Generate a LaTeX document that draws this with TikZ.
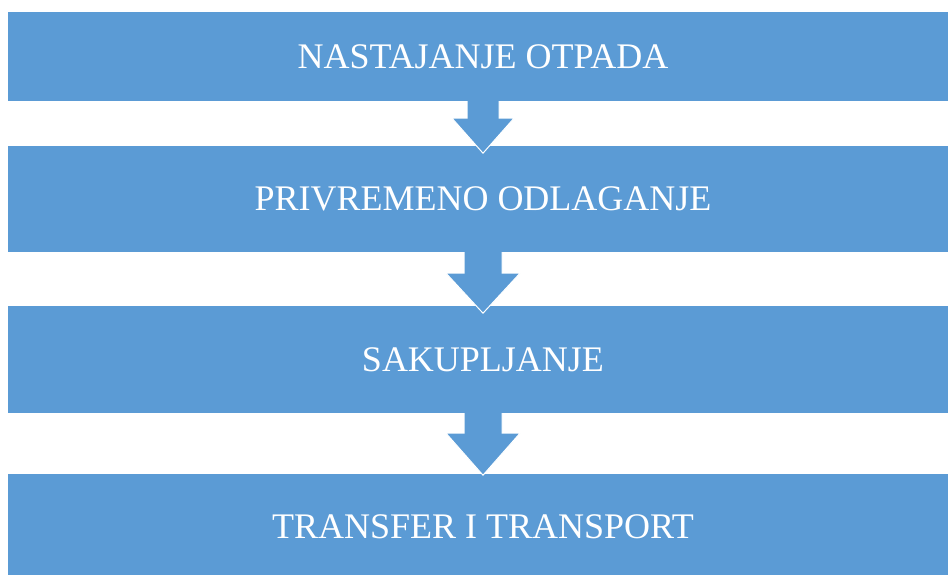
\documentclass[tikz,border=0pt]{standalone}
\usepackage{fontspec}
\setmainfont{Liberation Serif}
\usepackage{tikz}
\definecolor{blok}{HTML}{5B9BD5}
\tikzset{
  faza/.style={fill=blok, text=white, inner sep=0pt, minimum width=950pt,
    font=\fontsize{36}{40}\selectfont},
  pijl/.style={fill=blok, draw=white, line width=1pt, line join=miter}
}

\begin{document}
\begin{tikzpicture}[x=1pt,y=1pt]
    \useasboundingbox (0,0) rectangle (948,574);
    \clip (0,0) rectangle (948,574);
    \node[faza, minimum height=89pt] (nastaj) at (483,517.5) {NASTAJANJE OTPADA};
    \node[faza, minimum height=106pt] (odlag) at (483,375) {PRIVREMENO ODLAGANJE};
    \node[faza, minimum height=107pt] (sakup) at (483,214.5) {SAKUPLJANJE};
    \node[faza, minimum height=106pt] (transp) at (483,47) {TRANSFER I TRANSPORT};
    % strelice
    \filldraw[pijl] ([xshift=-16pt]nastaj.south) -- ++(0,-17) -- ++(-15,0) -- ++(31,-35) -- ++(31,35) -- ++(-15,0) -- ++(0,17);
    \filldraw[pijl] ([xshift=-19pt]odlag.south) -- ++(0,-21) -- ++(-18,0) -- ++(37,-40) -- ++(37,40) -- ++(-18,0) -- ++(0,21);
    \filldraw[pijl] ([xshift=-19pt]sakup.south) -- ++(0,-20) -- ++(-18,0) -- ++(37,-42) -- ++(37,42) -- ++(-18,0) -- ++(0,20);
  \end{tikzpicture}
\end{document}
